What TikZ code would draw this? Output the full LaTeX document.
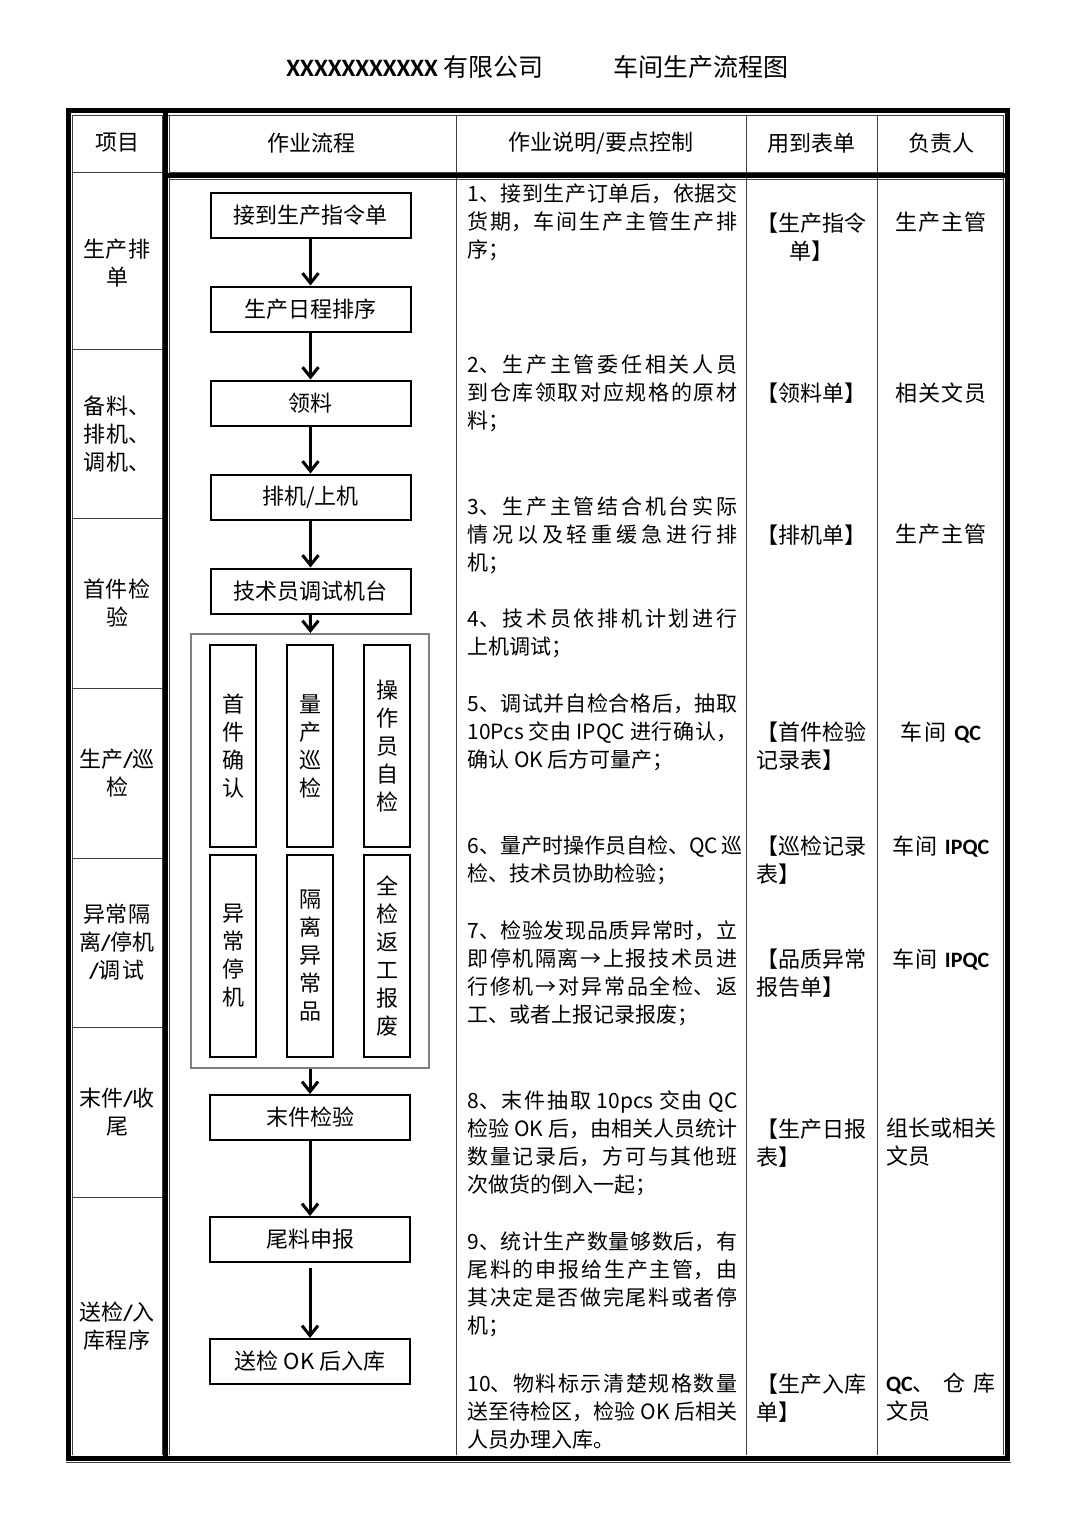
\documentclass[tikz,border=0pt]{standalone}
\usepackage{fontspec}
\setmainfont{Noto Sans CJK SC}
\newfontfamily\latinbf{Carlito}
\usepackage{tikz}
\usetikzlibrary{arrows.meta,positioning,fit}
\XeTeXlinebreaklocale "zh"
\XeTeXlinebreakskip=0pt plus 3pt
\XeTeXlinebreakpenalty=10000
\newcommand{\cellfont}{\fontsize{11}{14}\selectfont}
\newcommand{\descfont}{\fontsize{10.5}{14}\selectfont}
\newcommand{\qc}[1]{{\latinbf\bfseries #1}}
\newcommand{\slsh}{{\latinbf\bfseries /}}
\tikzstyle{flowbox} = [rectangle, draw, line width=1pt, minimum width=100pt,
                       minimum height=22.5pt, inner sep=0pt, font=\cellfont]
\tikzstyle{vbox} = [rectangle, draw, line width=1pt, minimum width=23pt,
                    minimum height=101pt, align=center, inner sep=0pt, font=\cellfont]
\tikzstyle{group} = [rectangle, draw=gray, line width=1pt, inner xsep=9pt, inner ysep=5pt]
\tikzstyle{arrow} = [-{Straight Barb[length=5pt,width=8pt]}, line width=1.5pt]
\tikzstyle{itemcell} = [text width=40pt, align=center, inner sep=0pt, font=\cellfont]
\tikzstyle{head} = [inner sep=0pt, font=\cellfont]
\tikzstyle{desc} = [text width=135pt, align=justify, anchor=north west, inner sep=0pt, font=\descfont]
\tikzstyle{cell} = [text width=55pt, anchor=north, inner sep=0pt, font=\cellfont]
\tikzstyle{thinline} = [line width=0.5pt, black!75]
\tikzstyle{thickline} = [line width=2.5pt]

\begin{document}
\begin{tikzpicture}[x=0.5pt, y=-0.5pt, node distance=47pt]
    \fill[white] (0,0) rectangle (1080,1527);
    \node[font=\fontsize{12.5}{15}\selectfont] (company) at (415,67) {{\latinbf\bfseries XXXXXXXXXXX} 有限公司};
    \node[font=\fontsize{12.5}{15}\selectfont] (title) at (701,67) {车间生产流程图};

    % table frame
    \draw[thinline] (72,1455) -- (72,115) -- (1003,115) -- (1003,1455);
    \draw[thinline] (162,115) -- (162,1455) (169,115) -- (169,1455);
    \draw[thinline] (169,172) -- (1003,172) (169,179) -- (1003,179);
    \foreach \y in {172,349,518,688,858,1027,1197}
        \draw[thinline] (72,\y) -- (162,\y);
    \foreach \x in {456,746,877}
        \draw[thinline] (\x,115) -- (\x,1455);
    \draw[thinline] (66,1462.5) -- (1011,1462.5);
    \draw[thickline] (68.5,110.5) rectangle (1007.5,1458.5);
    \draw[thickline] (165.5,110.5) -- (165.5,1458.5);
    \draw[thickline] (168,175.5) -- (1005,175.5);

    \node[head] (hitem) at (117,143) {项目};
    \node[head] (hflow) at (311,143) {作业流程};
    \node[head] (hdesc) at (601,143) {作业说明/要点控制};
    \node[head] (hform) at (811,143) {用到表单};
    \node[head] (howner) at (941,143) {负责人};

    \node[itemcell] (plan) at (117,263.5) {生产排\\单};
    \node[itemcell] (prep) at (117,434) {备料、\\排机、\\调机、};
    \node[itemcell] (first) at (117,603) {首件检\\验};
    \node[itemcell] (prod) at (117,773) {生产\slsh 巡\\检};
    \node[itemcell] (abnormal) at (117,942) {异常隔\\离\slsh 停机\\\slsh 调试};
    \node[itemcell] (finish) at (117,1112) {末件\slsh 收\\尾};
    \node[itemcell] (stock) at (117,1326) {送检\slsh 入\\库程序};

    \node[flowbox] (order) at (310.5,215) {接到生产指令单};
    \node[flowbox, below of=order] (sched) {生产日程排序};
    \node[flowbox, below of=sched] (pick) {领料};
    \node[flowbox, below of=pick] (mount) {排机/上机};
    \node[flowbox, below of=mount] (debug) {技术员调试机台};
    \node[vbox] (firstok) at (233,746) {首\\件\\确\\认};
    \node[vbox, right of=firstok, node distance=38.5pt] (patrol) {量\\产\\巡\\检};
    \node[vbox, right of=patrol, node distance=38.5pt] (selfchk) {操\\作\\员\\自\\检};
    \node[vbox, below of=firstok, node distance=105pt] (stopm) {异\\常\\停\\机};
    \node[vbox, right of=stopm, node distance=38.5pt] (isolate) {隔\\离\\异\\常\\品};
    \node[vbox, right of=isolate, node distance=38.5pt] (rework) {全\\检\\返\\工\\报\\废};
    \node[group, fit=(firstok) (rework)] (inspect) {};
    \node[flowbox, below=12.5pt of inspect] (lastchk) {末件检验};
    \node[flowbox, below of=lastchk, node distance=61pt] (tail) {尾料申报};
    \node[flowbox, below of=tail, node distance=61pt] (store) {送检 OK 后入库};

    \draw[arrow] (order) -- (sched);
    \draw[arrow] (sched) -- (pick);
    \draw[arrow] (pick) -- (mount);
    \draw[arrow] (mount) -- (debug);
    \draw[arrow] (debug) -- (inspect);
    \draw[arrow] (inspect) -- (lastchk);
    \draw[arrow] (lastchk) -- (tail);
    \draw[arrow, shorten <=2.5pt] (tail) -- (store);

    \node[desc] (d1) at (467,183) {1、接到生产订单后，依据交\linebreak 货期，车间生产主管生产排\linebreak 序；};
    \node[desc] (d2) at (467,354) {2、生产主管委任相关人员\linebreak 到仓库领取对应规格的原材\linebreak 料；};
    \node[desc] (d3) at (467,496) {3、生产主管结合机台实际\linebreak 情况以及轻重缓急进行排\linebreak 机；};
    \node[desc] (d4) at (467,608) {4、技术员依排机计划进行\linebreak 上机调试；};
    \node[desc] (d5) at (467,693) {5、调试并自检合格后，抽取\linebreak 10Pcs~交由~IPQC~进行确认，\linebreak 确认~OK~后方可量产；};
    \node[desc] (d6) at (467,835) {6、量产时操作员自检、QC~巡\linebreak 检、技术员协助检验；};
    \node[desc] (d7) at (467,920) {7、检验发现品质异常时，立\linebreak 即停机隔离→上报技术员进\linebreak 行修机→对异常品全检、返\linebreak 工、或者上报记录报废；};
    \node[desc] (d8) at (467,1090) {8、末件抽取~10pcs~交由~QC\linebreak 检验~OK~后，由相关人员统计\linebreak 数量记录后，方可与其他班\linebreak 次做货的倒入一起；};
    \node[desc] (d9) at (467,1231) {9、统计生产数量够数后，有\linebreak 尾料的申报给生产主管，由\linebreak 其决定是否做完尾料或者停\linebreak 机；};
    \node[desc] (d10) at (467,1373) {10、物料标示清楚规格数量\linebreak 送至待检区，检验~OK~后相关\linebreak 人员办理入库。};

    \node[cell, align=center] (f1) at (811,212) {【生产指令\\单】};
    \node[cell, align=center] (f2) at (811,382) {【领料单】};
    \node[cell, align=center] (f3) at (811,524) {【排机单】};
    \node[cell, align=left] (f4) at (811,721) {【首件检验\\记录表】};
    \node[cell, align=left] (f5) at (811,835) {【巡检记录\\表】};
    \node[cell, align=left] (f6) at (811,948) {【品质异常\\报告单】};
    \node[cell, align=left] (f7) at (811,1118) {【生产日报\\表】};
    \node[cell, align=left] (f8) at (811,1373) {【生产入库\\单】};

    \node[cell, align=center] (p1) at (941,212) {生产主管};
    \node[cell, align=center] (p2) at (941,382) {相关文员};
    \node[cell, align=center] (p3) at (941,524) {生产主管};
    \node[cell, align=center] (p4) at (941,721) {车间 \qc{QC}};
    \node[cell, align=center] (p5) at (941,835) {车间 \qc{IPQC}};
    \node[cell, align=center] (p6) at (941,948) {车间 \qc{IPQC}};
    \node[cell, align=left] (p7) at (941,1118) {组长或相关\\文员};
    \node[cell, align=left] (p8) at (941,1373) {\qc{QC}、\hfill 仓\hfill 库\\文员};
\end{tikzpicture}
\end{document}
